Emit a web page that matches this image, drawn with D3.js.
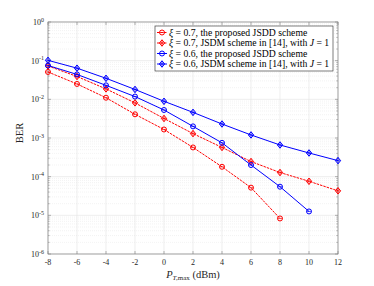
<!DOCTYPE html>
<html>
<head>
<meta charset="utf-8">
<script src="https://cdn.jsdelivr.net/npm/d3@7"></script>
<style>
body { margin: 0; background: #fff; }
text { font-family: "Liberation Serif", "DejaVu Serif", serif; }
</style>
</head>
<body>
<svg width="374" height="286"></svg>
<script>
var xTicks = [-8, -6, -4, -2, 0, 2, 4, 6, 8, 10, 12];
var yExps = [0, -1, -2, -3, -4, -5, -6];

var x07Prop = [-8, -6, -4, -2, 0, 2, 4, 6, 8];
var y07Prop = [0.051, 0.025, 0.011, 0.0041, 0.00166, 5.7e-4, 1.8e-4, 5.2e-5, 8.3e-6];

var x07Jsdm = [-8, -6, -4, -2, 0, 2, 4, 6, 8, 10, 12];
var y07Jsdm = [0.073, 0.039, 0.0186, 0.0081, 0.0032, 0.0013, 5.7e-4, 2.46e-4, 1.28e-4, 7.6e-5, 4.3e-5];

var x06Prop = [-8, -6, -4, -2, 0, 2, 4, 6, 8, 10];
var y06Prop = [0.075, 0.044, 0.023, 0.0118, 0.0053, 0.0020, 7.5e-4, 2.0e-4, 5.5e-5, 1.26e-5];

var x06Jsdm = [-8, -6, -4, -2, 0, 2, 4, 6, 8, 10, 12];
var y06Jsdm = [0.102, 0.064, 0.035, 0.018, 0.0089, 0.0046, 0.0023, 0.0012, 6.6e-4, 4.1e-4, 2.6e-4];

var legendLabels = [
	"ξ = 0.7, the proposed JSDD scheme",
	"ξ = 0.7, JSDM scheme in [14], with J = 1",
	"ξ = 0.6, the proposed JSDD scheme",
	"ξ = 0.6, JSDM scheme in [14], with J = 1"
];

var series = [
	{ xs: x07Prop, ys: y07Prop, color: "#ff0000", dash: "2.5,1", marker: "circle" },
	{ xs: x07Jsdm, ys: y07Jsdm, color: "#ff0000", dash: "2.5,1", marker: "diamond" },
	{ xs: x06Prop, ys: y06Prop, color: "#0000ff", dash: null, marker: "circle" },
	{ xs: x06Jsdm, ys: y06Jsdm, color: "#0000ff", dash: null, marker: "diamond" }
];

var svg = d3.select("svg"),
	margin = { top: 22, right: 36, bottom: 32, left: 48 },
	width = +svg.attr("width") - margin.left - margin.right,
	height = +svg.attr("height") - margin.top - margin.bottom;

var x = d3.scaleLinear().domain([-8, 12]).range([0, width]);
var y = d3.scaleLog().domain([1e-6, 1]).range([height, 0]);

var g = svg.append("g")
	.attr("transform", "translate(" + margin.left + "," + margin.top + ")");

g.append("rect").attr("width", width).attr("height", height).attr("fill", "#fff");

// minor log grid
var minor = [];
for (var e = -6; e < 0; e++) {
	for (var m = 2; m <= 9; m++) minor.push(m * Math.pow(10, e));
}
g.selectAll(".ygridminor")
	.data(minor)
	.enter().append("line")
	.attr("x1", 0).attr("x2", width)
	.attr("y1", function(d) { return y(d); })
	.attr("y2", function(d) { return y(d); })
	.attr("stroke", "#e6e6e6")
	.attr("stroke-width", 0.5)
	.attr("stroke-dasharray", "1,1");

g.selectAll(".ygrid")
	.data(yExps)
	.enter().append("line")
	.attr("x1", 0).attr("x2", width)
	.attr("y1", function(d) { return y(Math.pow(10, d)); })
	.attr("y2", function(d) { return y(Math.pow(10, d)); })
	.attr("stroke", "#e2e2e2")
	.attr("stroke-width", 0.6);

g.selectAll(".xgrid")
	.data(xTicks)
	.enter().append("line")
	.attr("x1", function(d) { return x(d); })
	.attr("x2", function(d) { return x(d); })
	.attr("y1", 0).attr("y2", height)
	.attr("stroke", "#e2e2e2")
	.attr("stroke-width", 0.6);

// axes box
var axisColor = "#262626";
g.append("rect")
	.attr("width", width).attr("height", height)
	.attr("fill", "none")
	.attr("stroke", "#808080")
	.attr("stroke-width", 0.7);

// x ticks (bottom & top, inward)
xTicks.forEach(function(t) {
	g.append("line").attr("x1", x(t)).attr("x2", x(t)).attr("y1", height).attr("y2", height - 3)
		.attr("stroke", "#808080").attr("stroke-width", 0.6);
	g.append("line").attr("x1", x(t)).attr("x2", x(t)).attr("y1", 0).attr("y2", 3)
		.attr("stroke", "#808080").attr("stroke-width", 0.6);
	g.append("text")
		.attr("x", x(t))
		.attr("y", height + 11)
		.attr("text-anchor", "middle")
		.attr("font-size", 8)
		.attr("fill", axisColor)
		.text(t);
});

// y ticks (left & right, inward) + minor ticks
yExps.forEach(function(e) {
	var yy = y(Math.pow(10, e));
	g.append("line").attr("x1", 0).attr("x2", 3).attr("y1", yy).attr("y2", yy)
		.attr("stroke", "#808080").attr("stroke-width", 0.6);
	g.append("line").attr("x1", width).attr("x2", width - 3).attr("y1", yy).attr("y2", yy)
		.attr("stroke", "#808080").attr("stroke-width", 0.6);
	var t = g.append("text")
		.attr("x", -4)
		.attr("y", yy + 3)
		.attr("text-anchor", "end")
		.attr("font-size", 8)
		.attr("fill", axisColor);
	t.append("tspan").text("10");
	t.append("tspan").attr("dy", -3.5).attr("font-size", 6).text(e === 0 ? "0" : "-" + (-e));
});
minor.forEach(function(v) {
	g.append("line").attr("x1", 0).attr("x2", 1.7).attr("y1", y(v)).attr("y2", y(v))
		.attr("stroke", "#808080").attr("stroke-width", 0.5);
	g.append("line").attr("x1", width).attr("x2", width - 1.7).attr("y1", y(v)).attr("y2", y(v))
		.attr("stroke", "#808080").attr("stroke-width", 0.5);
});

// axis labels
g.append("text")
	.attr("transform", "translate(-25," + (height / 2 - 5) + ") rotate(-90)")
	.attr("text-anchor", "middle")
	.attr("font-size", 10.5)
	.attr("fill", axisColor)
	.text("BER");

var xl = g.append("text")
	.attr("x", width / 2)
	.attr("y", height + 24)
	.attr("text-anchor", "middle")
	.attr("font-size", 10.5)
	.attr("fill", axisColor);
xl.append("tspan").attr("font-style", "italic").text("P");
xl.append("tspan").attr("font-size", 7).attr("dy", 2).attr("font-style", "italic").text("T,");
xl.append("tspan").attr("font-size", 7).text("max");
xl.append("tspan").attr("dy", -2).text(" (dBm)");

function drawMarker(sel, type, color) {
	if (type === "circle") {
		sel.append("circle").attr("r", 2.5)
			.attr("fill", "none").attr("stroke", color).attr("stroke-width", 1);
		sel.append("path").attr("d", "M-2.5,0H2.5")
			.attr("stroke", color).attr("stroke-width", 0.7);
	} else {
		sel.append("path").attr("d", "M0,-3.2L2.6,0L0,3.2L-2.6,0Z")
			.attr("fill", "none").attr("stroke", color).attr("stroke-width", 1);
		sel.append("path").attr("d", "M-2.6,0H2.6M0,-3.2V3.2")
			.attr("stroke", color).attr("stroke-width", 0.7);
	}
}

var line = d3.line()
	.x(function(d) { return x(d[0]); })
	.y(function(d) { return y(d[1]); });

series.forEach(function(s) {
	var pts = s.xs.map(function(v, i) { return [v, s.ys[i]]; });
	g.append("path")
		.datum(pts)
		.attr("d", line)
		.attr("fill", "none")
		.attr("stroke", s.color)
		.attr("stroke-width", 1)
		.attr("stroke-dasharray", s.dash);
	pts.forEach(function(p) {
		var mk = g.append("g").attr("transform", "translate(" + x(p[0]) + "," + y(p[1]) + ")");
		drawMarker(mk, s.marker, s.color);
	});
});

// legend
var lg = g.append("g").attr("transform", "translate(" + (x(2) - 38) + ",4)");
lg.append("rect")
	.attr("width", 178).attr("height", 45)
	.attr("fill", "#fff")
	.attr("stroke", "#262626")
	.attr("stroke-width", 0.6);
series.forEach(function(s, i) {
	var row = lg.append("g").attr("transform", "translate(0," + (6.5 + i * 10.5) + ")");
	row.append("line").attr("x1", 2).attr("x2", 12).attr("y1", 0).attr("y2", 0)
		.attr("stroke", s.color).attr("stroke-width", 1).attr("stroke-dasharray", s.dash);
	drawMarker(row.append("g").attr("transform", "translate(7,0)"), s.marker, s.color);
	var parts = legendLabels[i].split("J = 1");
	var t = row.append("text").attr("x", 14).attr("y", 3)
		.attr("font-size", 9.7).attr("fill", "#000");
	var first = parts[0].split("ξ");
	t.append("tspan").attr("font-style", "italic").text("ξ");
	t.append("tspan").text(first[1]);
	if (parts.length > 1) {
		t.append("tspan").attr("font-style", "italic").text("J");
		t.append("tspan").text(" = 1");
	}
});
</script>
</body>
</html>
